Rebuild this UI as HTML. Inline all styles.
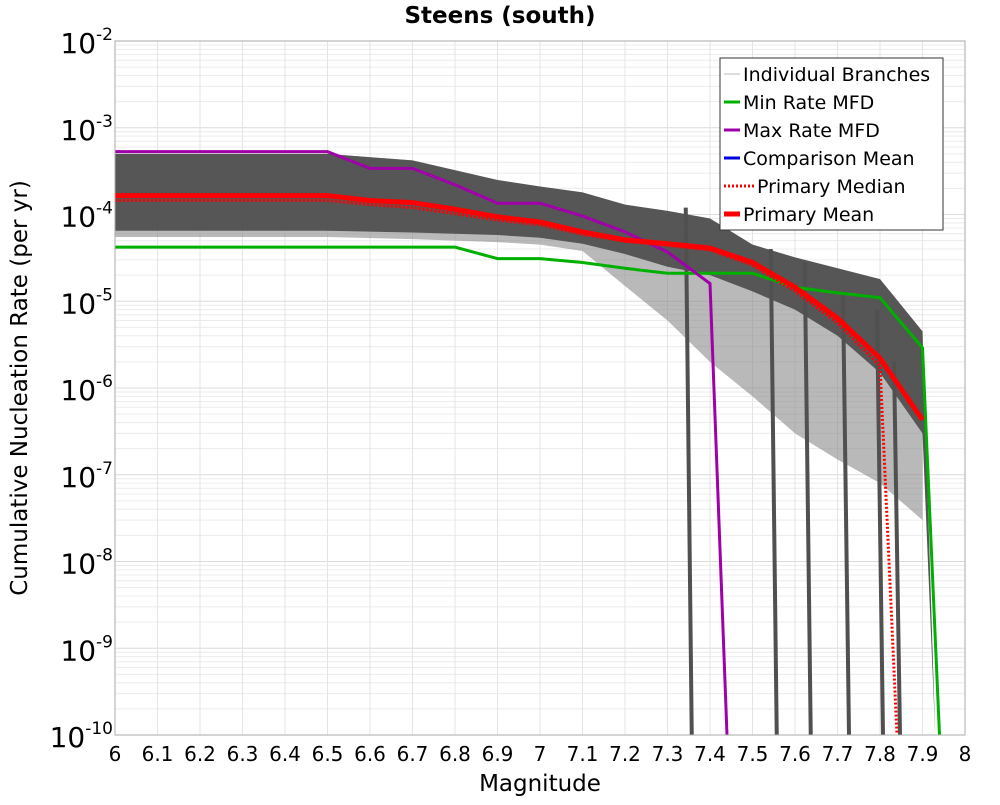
<!DOCTYPE html>
<html><head><meta charset="utf-8"><style>
body{margin:0;background:#fff;font-family:"Liberation Sans",sans-serif}
</style></head><body>
<svg id="chart" width="1000" height="800" xmlns="http://www.w3.org/2000/svg" font-family="DejaVu Sans, Liberation Sans, sans-serif">
<text x="500" y="23" text-anchor="middle" font-size="23" font-weight="bold">Steens (south)</text>
<g id="grid"></g><g id="bands"></g><g id="series"></g><g id="axes"></g>
<text x="540" y="791" text-anchor="middle" font-size="23">Magnitude</text>
<text transform="translate(27,388) rotate(-90)" text-anchor="middle" font-size="23">Cumulative Nucleation Rate (per yr)</text>
<g>
<rect x="720" y="58" width="223" height="172" fill="#fff" stroke="#333" stroke-width="1"/>
<line x1="724" y1="74" x2="740" y2="74" stroke="#bbb" stroke-width="1"/><text x="743" y="81" font-size="19">Individual Branches</text>
<line x1="724" y1="102" x2="740" y2="102" stroke="#00b000" stroke-width="3"/><text x="743" y="109" font-size="19">Min Rate MFD</text>
<line x1="724" y1="130" x2="740" y2="130" stroke="#a000a8" stroke-width="3"/><text x="743" y="137" font-size="19">Max Rate MFD</text>
<line x1="724" y1="158" x2="740" y2="158" stroke="#0000e0" stroke-width="3"/><text x="743" y="165" font-size="19">Comparison Mean</text>
<line x1="724" y1="186" x2="754" y2="186" stroke="#f00" stroke-width="3" stroke-dasharray="2,2"/><text x="757" y="193" font-size="19">Primary Median</text>
<line x1="724" y1="214" x2="740" y2="214" stroke="#f00" stroke-width="5"/><text x="743" y="221" font-size="19">Primary Mean</text>
</g>
</svg>
<script>
const mags=[6.0,6.5,6.6,6.7,6.8,6.9,7.0,7.1,7.2,7.3,7.4,7.5,7.6,7.7,7.8,7.9];
const meanVals=[1.65e-4,1.65e-4,1.45e-4,1.37e-4,1.15e-4,9.4e-5,8.2e-5,6.3e-5,5.1e-5,4.6e-5,4.1e-5,2.8e-5,1.45e-5,6.4e-6,2.2e-6,4.3e-7];
const medianVals=[1.45e-4,1.45e-4,1.3e-4,1.2e-4,1.02e-4,8.6e-5,7.6e-5,5.9e-5,4.9e-5,4.4e-5,3.9e-5,2.6e-5,1.3e-5,5.6e-6,1.8e-6,1e-10];
const medianMags=[6.0,6.5,6.6,6.7,6.8,6.9,7.0,7.1,7.2,7.3,7.4,7.5,7.6,7.7,7.8,7.84];
const minMags=[6.0,6.8,6.9,7.0,7.1,7.2,7.3,7.4,7.5,7.6,7.7,7.8,7.9,7.94];
const minVals=[4.2e-5,4.2e-5,3.1e-5,3.1e-5,2.8e-5,2.4e-5,2.1e-5,2.1e-5,2.1e-5,1.45e-5,1.25e-5,1.1e-5,2.9e-6,1e-10];
const maxMags=[6.0,6.5,6.6,6.7,6.8,6.9,7.0,7.1,7.2,7.3,7.4,7.44];
const maxVals=[5.3e-4,5.3e-4,3.4e-4,3.4e-4,2.2e-4,1.35e-4,1.35e-4,9.6e-5,6.3e-5,3.7e-5,1.6e-5,1e-10];
const bandMags=[6.0,6.5,6.7,6.9,7.0,7.1,7.2,7.3,7.4,7.5,7.6,7.7,7.8,7.9];
const bandUpper=[5.0e-4,5.0e-4,4.2e-4,2.5e-4,2.1e-4,1.8e-4,1.3e-4,1.1e-4,9e-5,4.5e-5,3.2e-5,2.4e-5,1.8e-5,4.5e-6];
const bandLower=[5.5e-5,5.5e-5,5.2e-5,4.8e-5,4.5e-5,3.8e-5,1.5e-5,6e-6,2e-6,8e-7,3e-7,1.5e-7,8e-8,3e-8];
const bandDarkLower=[6.5e-5,6.5e-5,6.2e-5,5.8e-5,5.4e-5,4.6e-5,3.5e-5,2.5e-5,2e-5,1.3e-5,8e-6,4e-6,1.5e-6,3e-7];
const dropMags=[7.35,7.55,7.63,7.72,7.8,7.84];
const dropTop=[1.2e-4,4e-5,2.8e-5,1.2e-5,8e-6,2e-6];
const xTicks=[6,6.1,6.2,6.3,6.4,6.5,6.6,6.7,6.8,6.9,7,7.1,7.2,7.3,7.4,7.5,7.6,7.7,7.8,7.9,8];
const yExps=[-2,-3,-4,-5,-6,-7,-8,-9,-10];
const L=115,R=965,T=41,B=735;
const X=m=>L+(m-6)/2*(R-L);
const Y=v=>T+(-2-Math.log10(v))/8*(B-T);
const NS="http://www.w3.org/2000/svg";
function mk(parent,tag,attrs){const e=document.createElementNS(NS,tag);for(const k in attrs)e.setAttribute(k,attrs[k]);document.getElementById(parent).appendChild(e);return e;}
for(let d=-10;d<-2;d++)for(let k=1;k<10;k++){const y=Y(k*Math.pow(10,d));const g=mk('grid','line',{x1:L,x2:R,y1:y,y2:y,stroke:k==1?'#dcdcdc':'#ececec','stroke-width':1});

}
xTicks.forEach(t=>{const g=mk('grid','line',{x1:X(t),x2:X(t),y1:T,y2:B,stroke:'#e4e4e4','stroke-width':1});

});
function poly(ms,up,lo){let p=ms.map((m,i)=>X(m)+','+Y(up[i]));for(let i=ms.length-1;i>=0;i--)p.push(X(ms[i])+','+Y(lo[i]));return p.join(' ');}
const b1=mk('bands','polygon',{points:poly(bandMags,bandUpper,bandLower),fill:'#8a8a8a','fill-opacity':0.6});


const b2=mk('bands','polygon',{points:poly(bandMags,bandUpper,bandDarkLower),fill:'#505050','fill-opacity':0.95});


const tail=mk('bands','polygon',{points:[X(7.9)+','+Y(bandUpper[13]),X(7.93)+','+Y(1e-10),X(7.9)+','+Y(bandDarkLower[13])].join(' '),fill:'#555'});


dropMags.forEach((m,i)=>{const l=mk('bands','line',{x1:X(m)-3,y1:Y(dropTop[i]),x2:X(m)+3,y2:B,stroke:'#505050','stroke-width':4});

});
function line(ms,vs,attrs,name){const e=mk('series','polyline',Object.assign({points:ms.map((m,i)=>X(m)+','+Y(vs[i])).join(' '),fill:'none'},attrs));

}
line(minMags,minVals,{stroke:'#00b000','stroke-width':3},'min-rate-mfd');
line(maxMags,maxVals,{stroke:'#a000a8','stroke-width':3},'max-rate-mfd');
line(medianMags,medianVals,{stroke:'#f00','stroke-width':3,'stroke-dasharray':'2,2'},'primary-median');
line(mags,meanVals,{stroke:'#f00','stroke-width':5},'primary-mean');
const fr=mk('axes','rect',{x:L,y:T,width:R-L,height:B-T,fill:'none',stroke:'#aaa'});


xTicks.forEach(t=>{const e=mk('axes','text',{x:X(t),y:761,'text-anchor':'middle','font-size':20});e.textContent=String(t);

});
yExps.forEach(d=>{const e=mk('axes','text',{x:113,y:Y(Math.pow(10,d))+12,'text-anchor':'end','font-size':28});


e.innerHTML='10<tspan dy="-13" font-size="17">'+d+'</tspan>';});
</script>
</body></html>
